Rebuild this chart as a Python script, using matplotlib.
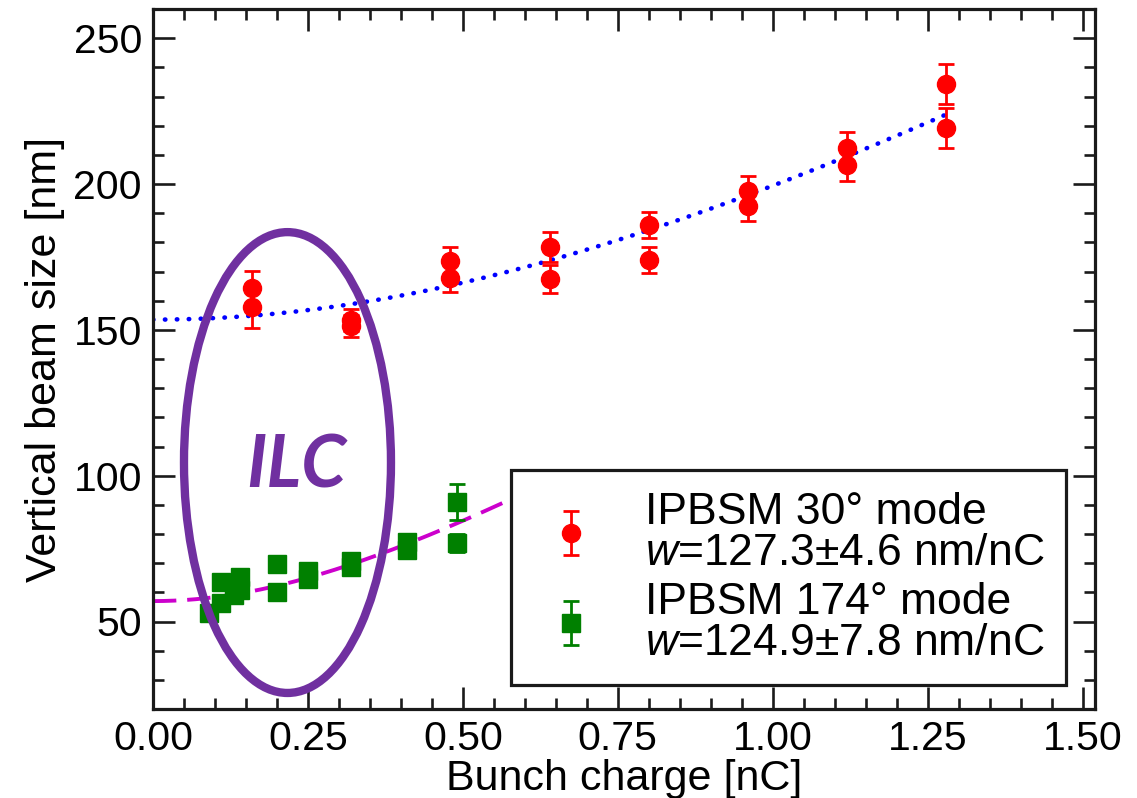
import numpy as np
import matplotlib
matplotlib.use("Agg")
import matplotlib.pyplot as plt
from matplotlib.ticker import MultipleLocator, FormatStrFormatter
from matplotlib.patches import Ellipse

plt.rcParams['font.family'] = ['Liberation Sans', 'DejaVu Sans']
plt.rcParams['mathtext.fontset'] = 'custom'
plt.rcParams['mathtext.it'] = 'Liberation Sans:italic'
plt.rcParams['mathtext.rm'] = 'Liberation Sans'

# ---- data ----
q30 = [0.16, 0.16, 0.32, 0.32, 0.48, 0.48, 0.64, 0.64,
       0.80, 0.80, 0.96, 0.96, 1.12, 1.12, 1.28, 1.28]
size30 = [164.3, 157.8, 153.4, 151.3, 173.6, 167.8, 178.4, 167.4,
          185.9, 173.9, 197.6, 192.4, 212.3, 206.5, 234.3, 219.2]
err30 = [6.0, 7.0, 3.9, 3.9, 4.8, 4.8, 5.0, 4.8,
         4.5, 4.5, 5.0, 5.0, 5.5, 5.5, 6.9, 6.9]

q174 = [0.09, 0.11, 0.11, 0.13, 0.14, 0.14, 0.20, 0.20,
        0.25, 0.25, 0.32, 0.32, 0.41, 0.41, 0.49, 0.49]
size174 = [52.8, 56.2, 63.6, 59.1, 65.3, 60.8, 69.7, 60.2,
           67.4, 64.6, 70.6, 68.6, 77.1, 74.4, 91.0, 76.9]
err174 = [2.5, 2.5, 2.5, 2.5, 2.5, 2.5, 2.5, 2.5,
          2.5, 2.5, 2.5, 2.5, 2.5, 2.5, 6.3, 3.0]

# fit parameters: sigma = sqrt(sigma0^2 + (w q)^2)
sigma0_30, w_30, qmax_30 = 153.5, 127.3, 1.28
sigma0_174, w_174, qmax_174 = 57.0, 124.9, 0.57

label30 = "IPBSM 30° mode\n$w$=127.3±4.6 nm/nC"
label174 = "IPBSM 174° mode\n$w$=124.9±7.8 nm/nC"

# ---- figure ----
W, H = 1137, 798
fig = plt.figure(figsize=(W / 100, H / 100), dpi=100)
ax = fig.add_axes([153 / W, 1 - 709 / H, (1095 - 153) / W, 700 / H])

qf30 = np.linspace(0, qmax_30, 300)
ax.plot(qf30, np.sqrt(sigma0_30**2 + (w_30 * qf30)**2), color='#0000FF',
        lw=3.3, linestyle=(0, (0.1, 2.5)), dash_capstyle='round', zorder=2)
qf174 = np.linspace(0, qmax_174, 300)
ax.plot(qf174, np.sqrt(sigma0_174**2 + (w_174 * qf174)**2), color='#CC00CC',
        lw=2.8, linestyle=(0, (6.0, 2.8)), zorder=2)

h30 = ax.errorbar(q30, size30, yerr=err30, fmt='o', color='#FF0000',
                  ms=13, elinewidth=2.0, capsize=6, capthick=2.0, zorder=3)
h174 = ax.errorbar(q174, size174, yerr=err174, fmt='s', color='#008000',
                   ms=13.5, elinewidth=2.0, capsize=6, capthick=2.0, zorder=3)

ax.add_patch(Ellipse((0.217, 104.5), 0.334, 158.0, facecolor='none',
                     edgecolor='#7030A0', lw=6, zorder=4))
ax.text(0.232, 103.0, "ILC", color='#7030A0', fontsize=52,
        fontweight='bold', fontstyle='italic', family=['Lato', 'DejaVu Sans'],
        ha='center', va='center', zorder=5)

ax.set_xlim(0, 1.52)
ax.set_ylim(20, 260)
ax.xaxis.set_major_locator(MultipleLocator(0.25))
ax.xaxis.set_minor_locator(MultipleLocator(0.05))
ax.xaxis.set_major_formatter(FormatStrFormatter('%.2f'))
ax.yaxis.set_major_locator(MultipleLocator(50))
ax.yaxis.set_minor_locator(MultipleLocator(10))

ax.tick_params(which='both', direction='in', top=True, right=True,
               width=1.9, colors='#1a1a1a')
ax.tick_params(which='major', length=15.5, labelsize=29.5, pad=8,
               labelcolor='black')
ax.tick_params(which='minor', length=8)
for s in ax.spines.values():
    s.set_linewidth(2.3)
    s.set_color('#1a1a1a')

ax.set_xlabel("Bunch charge [nC]", fontsize=31, labelpad=0.5)
ax.set_ylabel("Vertical beam size [nm]", fontsize=31, labelpad=6)

leg = ax.legend([h30, h174], [label30, label174], fontsize=32,
                loc='upper left', bbox_to_anchor=(0.380, 0.341),
                frameon=True, fancybox=False, framealpha=1,
                handlelength=1.74, handletextpad=0.8, borderpad=0.48,
                labelspacing=0.18, borderaxespad=0)
leg.get_frame().set_edgecolor('#1a1a1a')
leg.get_frame().set_linewidth(2.3)
for t in leg.get_texts():
    t.set_linespacing(1.0)
leg.set_zorder(6)

fig.savefig("out.png", dpi=100, facecolor='white')
